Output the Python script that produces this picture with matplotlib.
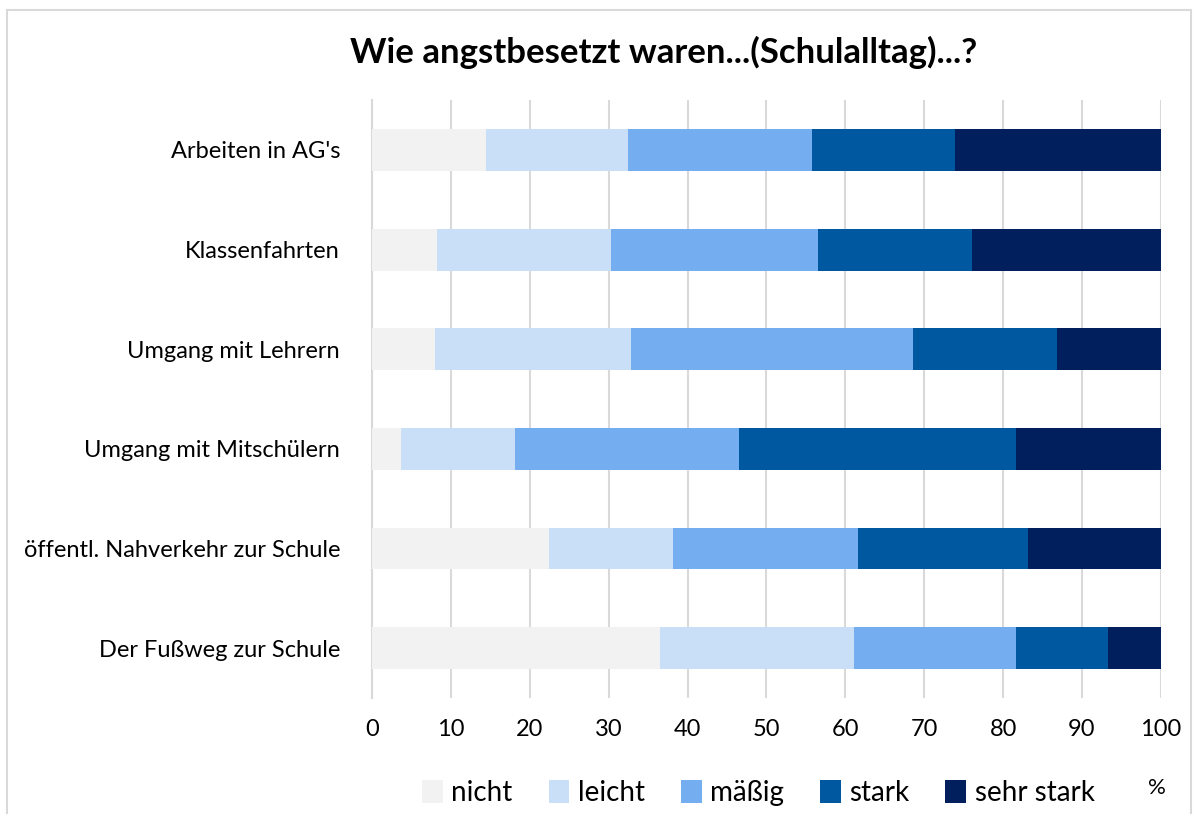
import matplotlib.pyplot as plt
from matplotlib.patches import Rectangle
import numpy as np

plt.rcParams['font.family'] = ['Lato', 'DejaVu Sans']

# Data (percent per answer level)
categories = ["Der Fußweg zur Schule", "öffentl. Nahverkehr zur Schule",
              "Umgang mit Mitschülern", "Umgang mit Lehrern",
              "Klassenfahrten", "Arbeiten in AG's"]
levels = ["nicht", "leicht", "mäßig", "stark", "sehr stark"]
nicht = [36.5, 22.4, 3.7, 8.0, 8.2, 14.4]
leicht = [24.6, 15.7, 14.4, 24.8, 22.1, 18.0]
maessig = [20.6, 23.5, 28.4, 35.8, 26.2, 23.4]
stark = [11.6, 21.5, 35.1, 18.2, 19.5, 18.1]
sehr_stark = [6.7, 16.9, 18.4, 13.2, 24.0, 26.1]
colors = ["#F2F2F2", "#C9DFF8", "#75AEF0", "#0059A0", "#001F5C"]

fig = plt.figure(figsize=(11.98, 8.14), dpi=100)
ax = fig.add_axes([0.3105, 0.1425, 0.6585, 0.7345])

y = np.arange(len(categories))
left = np.zeros(len(categories))
for name, vals, col in zip(levels, [nicht, leicht, maessig, stark, sehr_stark], colors):
    ax.barh(y, vals, left=left, height=0.42, color=col, label=name, zorder=3)
    left += np.array(vals)

ax.set_xlim(0, 100)
ax.set_ylim(-0.5, 5.5)
ax.set_xticks(range(0, 101, 10))
ax.set_yticks(y)
ax.set_yticklabels(categories)
ax.tick_params(axis='both', length=0, labelsize=17, colors='#000000')
ax.tick_params(axis='x', pad=15)
ax.tick_params(axis='y', pad=23)
ax.grid(axis='x', color='#D9D9D9', linewidth=1.5, zorder=0)
for s in ['top', 'right', 'bottom']:
    ax.spines[s].set_visible(False)
ax.spines['left'].set_color('#D9D9D9')
ax.spines['left'].set_linewidth(1.5)

fig.text(0.554, 0.935, "Wie angstbesetzt waren...(Schulalltag)...?",
         ha='center', va='center', fontsize=25, fontweight='bold')

leg = fig.legend(loc='center', bbox_to_anchor=(0.633, 0.026), ncol=5,
                 frameon=False, fontsize=20, handlelength=0.75, handleheight=0.9,
                 handletextpad=0.3, columnspacing=1.3)
fig.text(0.966, 0.032, "%", ha='center', va='center', fontsize=16)

fig.patches.append(Rectangle((0.006, -0.01), 0.988, 0.998, transform=fig.transFigure,
                             fill=False, edgecolor='#D9D9D9', linewidth=1.5))

fig.savefig("out.png", dpi=100)
